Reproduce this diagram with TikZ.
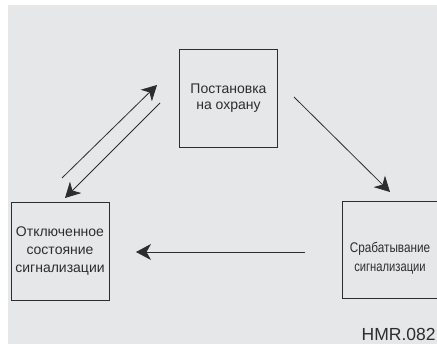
\documentclass[tikz,border=0pt]{standalone}
\usepackage{fontspec}
\setmainfont{Liberation Sans}
\usetikzlibrary{arrows.meta}
\definecolor{bggray}{RGB}{230,231,232}
\definecolor{ink}{RGB}{45,45,47}
\begin{document}
\begin{tikzpicture}[x=1pt,y=-1pt,
  statebox/.style={draw=ink, line width=0.95pt, minimum width=98pt, minimum height=98pt, inner sep=0pt},
  statetext/.style={text=ink, align=center, inner sep=0pt, font=\fontsize{14}{18}\selectfont},
  flow/.style={draw=ink, line width=0.8pt, -{Stealth[length=15pt,width=16pt,inset=4.5pt]}}]
\clip (0,0) rectangle (437,344);
\fill[white] (0,0) rectangle (437,344);
\fill[bggray] (8,5) rectangle (440,347);
% boxes
\node[statebox] (top) at (228.5,98) {};
\node[statebox] (left) at (60,251) {};
\node[statebox, minimum height=97pt] (right) at (391,249.5) {};
% texts
\node[statetext, font=\fontsize{14}{15.5}\selectfont] (ttop) at (228.5,98) {Постановка\\на охрану};
\node[statetext] (tleft) at (60,251) {Отключенное\\состояние\\сигнализации};
\node[statetext, font=\fontsize{14}{19}\selectfont] (tright) at (390,258.5) {\scalebox{0.84}[1]{Срабатывание}\\\scalebox{0.8}[1]{сигнализации}};
\node[text=ink, anchor=base west, inner sep=0pt, font=\fontsize{17.5}{19}\selectfont] (code) at (361.5,341) {HMR.082};
% arrow end points
\coordinate (u1) at (62,178);
\coordinate (u2) at (157,85);
\coordinate (d1) at (160,103);
\coordinate (d2) at (65,198);
\coordinate (r1) at (294,97);
\coordinate (r2) at (390,192);
\coordinate (h1) at (305,252);
\coordinate (h2) at (136,252);
\draw[flow] (u1) -- (u2);
\draw[flow] (d1) -- (d2);
\draw[flow] (r1) -- (r2);
\draw[flow] (h1) -- (h2);
\end{tikzpicture}
\end{document}
